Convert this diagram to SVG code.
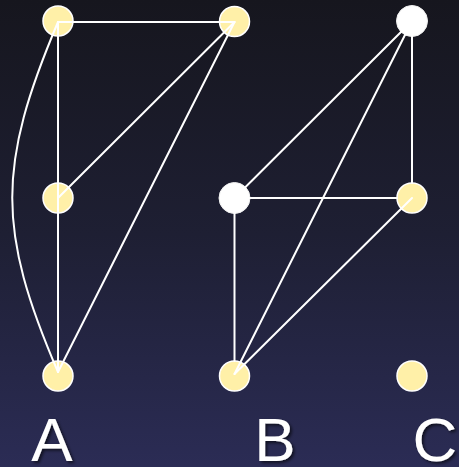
<svg xmlns="http://www.w3.org/2000/svg" width="459" height="467" viewBox="0 0 459 467">
<defs>
<linearGradient id="bg" x1="0" y1="0" x2="0" y2="1">
<stop offset="0" stop-color="#16161e"/>
<stop offset="0.5" stop-color="#1e1f33"/>
<stop offset="1" stop-color="#2b2c55"/>
</linearGradient>
<filter id="sh" x="-20%" y="-20%" width="140%" height="140%">
<feDropShadow dx="2" dy="2" stdDeviation="1.5" flood-color="#000" flood-opacity="0.6"/>
</filter>
<style>
.y{fill:#fff0a8;stroke:#ffffff;stroke-width:1.5}
.w{fill:#ffffff;stroke:#f0f0f0;stroke-width:1}
.e{stroke:#ffffff;stroke-width:2;fill:none;stroke-linecap:round}
.t{font-family:"Liberation Sans",Arial,sans-serif;font-size:62px;fill:#ffffff;text-anchor:middle}
</style>
</defs>
<rect width="459" height="467" fill="url(#bg)"/>
<g id="nodes">
<g id="A1"><circle class="y" cx="58" cy="21" r="15"/></g>
<g id="A2"><circle class="y" cx="58" cy="198" r="15"/></g>
<g id="A3"><circle class="y" cx="58" cy="376" r="15"/></g>
<g id="B1"><circle class="y" cx="234.5" cy="21.5" r="15"/></g>
<g id="B2"><circle class="w" cx="234.5" cy="198" r="15.5"/></g>
<g id="B3"><circle class="y" cx="234.5" cy="376" r="15"/></g>
<g id="C1"><circle class="w" cx="412" cy="21" r="15.5"/></g>
<g id="C2"><circle class="y" cx="412" cy="198" r="15"/></g>
<g id="C3"><circle class="y" cx="412" cy="376" r="15"/></g>
</g>
<g id="connectors">
<line class="e" x1="58" y1="22" x2="234.5" y2="22"/>
<line class="e" x1="58" y1="22" x2="58" y2="372"/>
<path class="e" d="M58,22 C-3,166 -3,230 58,372"/>
<line class="e" x1="58" y1="198" x2="234.5" y2="22"/>
<line class="e" x1="58" y1="372" x2="234.5" y2="22"/>
<line class="e" x1="412" y1="21" x2="234.5" y2="198"/>
<line class="e" x1="412" y1="21" x2="234.5" y2="374"/>
<line class="e" x1="412" y1="21" x2="412" y2="183"/>
<line class="e" x1="234.5" y1="198" x2="397" y2="198"/>
<line class="e" x1="234.5" y1="198" x2="234.5" y2="361"/>
<line class="e" x1="412" y1="198" x2="234.5" y2="374"/>
</g>
<g id="labels" filter="url(#sh)">
<text class="t" x="52" y="461">A</text>
<text class="t" x="275" y="461">B</text>
<text class="t" x="435" y="461">C</text>
</g>
</svg>
